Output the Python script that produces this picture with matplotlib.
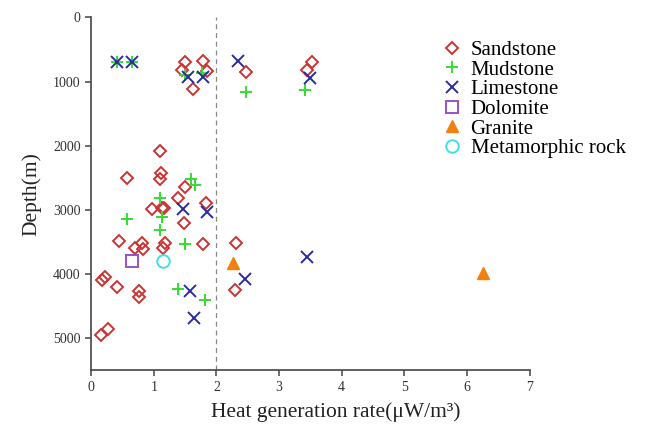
import matplotlib.pyplot as plt

plt.rcParams['font.family'] = ['Liberation Serif', 'DejaVu Serif']

# heat generation rate (uW/m3) and depth (m) for each rock type
sand_x = [1.50, 1.79, 1.45, 1.85, 1.63, 2.47, 3.52, 3.44,
          1.10, 0.58, 1.12, 1.10, 1.50, 1.39, 1.83, 0.97, 1.13, 1.17, 1.49,
          0.44, 0.70, 0.81, 0.83, 1.14, 1.18, 1.78, 2.32,
          0.22, 0.17, 0.42, 0.77, 0.77, 2.30, 0.27, 0.16]
sand_y = [690, 676, 820, 830, 1120, 845, 690, 820,
          2080, 2510, 2430, 2520, 2650, 2810, 2890, 2990, 2975, 2965, 3200,
          3485, 3600, 3520, 3615, 3600, 3520, 3530, 3520,
          4040, 4100, 4205, 4260, 4360, 4250, 4855, 4950]

mud_x = [0.41, 0.65, 1.50, 1.77, 2.47, 3.41,
         1.59, 1.66, 1.10, 0.58, 1.13, 1.10, 1.50, 1.38, 1.82]
mud_y = [700, 700, 900, 870, 1160, 1130,
         2520, 2610, 2820, 3150, 3115, 3310, 3535, 4235, 4400]

lime_x = [0.41, 0.65, 1.55, 1.79, 2.35, 3.49, 1.47, 1.85, 1.58, 1.65, 2.46, 3.44]
lime_y = [690, 690, 935, 935, 675, 950, 2985, 3030, 4260, 4680, 4075, 3740]

dolo_x = [0.66]
dolo_y = [3805]

gran_x = [2.27, 6.26]
gran_y = [3830, 3990]

meta_x = [1.14]
meta_y = [3805]

fig = plt.figure(figsize=(6.46, 4.26), dpi=100)
ax = fig.add_axes([0.141, 0.131, 0.679, 0.828])

ax.axvline(2, color='#888888', ls=(0, (4, 3)), lw=0.9, zorder=1)

ax.plot(sand_x, sand_y, ls='none', marker='D', ms=6, mfc='none', mec='#cc3333', mew=1.4, label='Sandstone')
ax.plot(mud_x, mud_y, ls='none', marker='+', ms=9, mec='#33dd33', mew=1.4, label='Mudstone')
ax.plot(lime_x, lime_y, ls='none', marker='x', ms=8, mec='#2b2ba0', mew=1.4, label='Limestone')
ax.plot(dolo_x, dolo_y, ls='none', marker='s', ms=8, mfc='none', mec='#9b4fc8', mew=1.4, label='Dolomite')
ax.plot(gran_x, gran_y, ls='none', marker='^', ms=9, mfc='#f08010', mec='#f08010', label='Granite')
ax.plot(meta_x, meta_y, ls='none', marker='o', ms=9, mfc='none', mec='#40e0e0', mew=1.4, label='Metamorphic rock')

ax.set_xlim(0, 7)
ax.set_ylim(5500, 0)
ax.set_xticks(range(0, 8))
ax.set_yticks(range(0, 5001, 1000))
ax.spines['top'].set_visible(False)
ax.spines['right'].set_visible(False)
for s in ['left', 'bottom']:
    ax.spines[s].set_color('#444444')
    ax.spines[s].set_linewidth(1.2)
ax.tick_params(direction='out', length=4, width=1.1, color='#444444', labelsize=10, labelcolor='#333333')

ax.set_xlabel('Heat generation rate(\u03bcW/m\u00b3)', fontsize=15.5, color='#222222')
ax.xaxis.set_label_coords(0.558, -0.09)
ax.set_ylabel('Depth(m)', fontsize=15.5, color='#222222', labelpad=8)

ax.legend(loc='upper left', bbox_to_anchor=(0.775, 0.958), frameon=False,
          labelspacing=0.0, handletextpad=0.3, handlelength=1.2, borderaxespad=0,
          prop={'size': 15})

fig.savefig('out.png', dpi=100)
